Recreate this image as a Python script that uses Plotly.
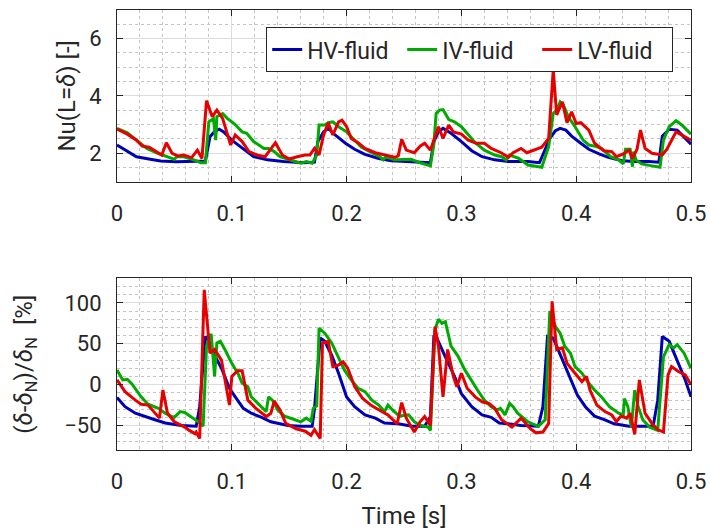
import plotly.graph_objects as go

# ---------------- data (time [s], value) ----------------
nu_hv = [(0,2.28),(0.017,1.87),(0.029,1.78),(0.038,1.72),(0.052,1.69),(0.073,1.70),(0.077,1.72),(0.081,2.57),
         (0.085,2.75),(0.089,2.83),(0.093,2.74),(0.1,2.45),(0.11,2.13),(0.119,1.87),(0.131,1.76),(0.145,1.70),
         (0.163,1.66),(0.172,1.68),(0.175,2.4),(0.18,2.74),(0.184,2.86),(0.19,2.63),(0.199,2.34),(0.207,2.13),
         (0.216,1.95),(0.228,1.81),(0.239,1.73),(0.251,1.70),(0.263,1.66),(0.273,1.66),(0.276,2.4),(0.28,2.74),
         (0.284,2.86),(0.291,2.69),(0.3,2.4),(0.309,2.08),(0.318,1.87),(0.329,1.76),(0.341,1.70),(0.358,1.70),
         (0.368,1.66),(0.373,2.1),(0.377,2.51),(0.382,2.78),(0.386,2.86),(0.391,2.8),(0.396,2.59),(0.404,2.34),
         (0.411,2.13),(0.42,1.97),(0.428,1.85),(0.44,1.73),(0.451,1.70),(0.463,1.70),(0.472,1.68),(0.475,2.59),
         (0.481,2.83),(0.488,2.8),(0.494,2.57),(0.5,2.31)]
nu_iv = [(0,2.86),(0.009,2.71),(0.017,2.45),(0.026,2.16),(0.035,2.0),(0.044,1.87),(0.05,1.78),(0.052,1.87),
         (0.058,1.87),(0.067,1.76),(0.073,1.66),(0.077,1.66),(0.08,3.09),(0.084,3.2),(0.086,2.45),(0.087,3.27),
         (0.092,3.38),(0.096,3.21),(0.102,3.03),(0.109,2.74),(0.113,2.69),(0.119,2.4),(0.128,2.16),(0.132,2.16),
         (0.137,2.05),(0.142,1.87),(0.151,1.76),(0.16,1.64),(0.165,1.7),(0.17,1.64),(0.174,1.93),(0.176,2.98),
         (0.181,2.98),(0.184,3.06),(0.188,3.09),(0.193,2.92),(0.2,2.74),(0.206,2.48),(0.213,2.2),(0.222,2.01),
         (0.229,1.87),(0.232,1.76),(0.234,1.87),(0.242,1.76),(0.251,1.76),(0.256,1.78),(0.264,1.66),(0.273,1.55),
         (0.276,2.3),(0.278,3.38),(0.281,3.5),(0.284,3.52),(0.289,3.17),(0.294,3.09),(0.3,2.92),(0.306,2.63),
         (0.312,2.36),(0.32,2.1),(0.329,1.93),(0.335,1.87),(0.339,1.76),(0.342,1.93),(0.35,1.81),(0.358,1.58),
         (0.37,1.5),(0.376,2.22),(0.38,3.38),(0.383,3.5),(0.386,3.79),(0.389,3.67),(0.393,3.27),(0.399,2.92),
         (0.406,2.45),(0.411,2.28),(0.416,2.24),(0.422,2.16),(0.43,1.87),(0.437,1.76),(0.441,1.62),(0.443,2.13),
         (0.447,2.13),(0.449,1.52),(0.45,2.05),(0.452,1.76),(0.457,1.62),(0.466,1.55),(0.473,1.5),(0.476,2.45),
         (0.481,2.92),(0.487,3.13),(0.492,2.98),(0.5,2.66)]
nu_lv = [(0,2.84),(0.009,2.66),(0.017,2.45),(0.022,2.24),(0.028,2.2),(0.035,2.01),(0.039,1.93),(0.043,2.36),
         (0.048,1.99),(0.053,1.9),(0.058,1.93),(0.065,1.84),(0.07,2.1),(0.074,1.81),(0.078,3.83),(0.083,3.27),
         (0.087,3.5),(0.092,3.21),(0.099,2.28),(0.103,2.63),(0.109,2.4),(0.115,2.05),(0.122,1.93),(0.129,1.87),
         (0.138,2.36),(0.144,1.93),(0.15,1.79),(0.157,1.87),(0.164,1.93),(0.168,1.93),(0.172,2.16),(0.176,1.93),
         (0.18,2.63),(0.184,3.06),(0.188,2.63),(0.193,3.09),(0.196,3.15),(0.2,2.92),(0.204,2.51),(0.21,2.36),
         (0.216,2.16),(0.225,2.01),(0.234,1.93),(0.242,1.85),(0.245,1.9),(0.248,2.48),(0.252,2.1),(0.259,2.01),
         (0.264,2.24),(0.268,2.34),(0.273,2.1),(0.277,2.57),(0.28,2.92),(0.284,2.51),(0.289,2.98),(0.293,2.74),
         (0.3,2.66),(0.306,2.45),(0.313,2.34),(0.32,2.34),(0.326,2.16),(0.335,2.0),(0.341,1.85),(0.345,2.01),
         (0.352,2.16),(0.357,2.01),(0.363,2.1),(0.37,2.2),(0.376,2.51),(0.38,4.9),(0.383,3.33),(0.388,3.79),
         (0.392,3.06),(0.396,3.44),(0.4,3.03),(0.404,3.06),(0.411,2.8),(0.416,2.34),(0.424,2.08),(0.431,2.05),
         (0.435,1.87),(0.441,1.97),(0.446,2.1),(0.449,1.81),(0.453,2.13),(0.456,2.8),(0.46,2.16),(0.466,1.99),
         (0.475,1.93),(0.479,2.13),(0.487,2.74),(0.492,2.63),(0.5,2.45)]

dev_hv = [(0,-15.6),(0.007,-27),(0.016,-35),(0.024,-39),(0.033,-43),(0.042,-47),(0.056,-50),(0.069,-51),
          (0.072,-27),(0.075,26),(0.077,59),(0.081,51),(0.085,36),(0.091,20),(0.098,-4.5),(0.103,-15),(0.11,-29),
          (0.117,-35),(0.126,-40),(0.134,-45.5),(0.149,-50),(0.16,-51),(0.17,-51),(0.172,-30),(0.1745,10),
          (0.177,57),(0.181,53),(0.187,36),(0.193,14),(0.2,-15),(0.207,-27),(0.216,-37),(0.225,-41),(0.233,-47),
          (0.245,-48),(0.257,-51),(0.268,-51),(0.273,-39),(0.276,59),(0.278,59),(0.286,34),(0.294,10),(0.3,-11),
          (0.309,-27),(0.318,-37),(0.326,-40),(0.333,-47),(0.338,-47.5),(0.352,-50),(0.367,-51),(0.371,-27),
          (0.375,59),(0.38,57),(0.388,30),(0.395,5.7),(0.401,-12.7),(0.408,-27),(0.416,-38.5),(0.425,-43),
          (0.433,-48),(0.446,-51),(0.467,-51),(0.471,-19),(0.475,59),(0.481,53),(0.488,30),(0.495,5.7),(0.5,-15)]
dev_iv = [(0,18),(0.005,5.7),(0.009,6.6),(0.013,0.8),(0.021,-15),(0.027,-24),(0.036,-29),(0.042,-35),(0.047,-38.5),
          (0.05,-40),(0.055,-33),(0.059,-34),(0.065,-40),(0.071,-45.5),(0.075,-51),(0.078,47),(0.08,57),(0.082,62),
          (0.085,10),(0.087,51),(0.09,53),(0.094,43),(0.1,26),(0.106,12),(0.109,1.6),(0.114,-2.5),(0.117,-15),
          (0.126,-27),(0.13,-33),(0.132,-15),(0.136,-20),(0.14,-31),(0.146,-38.5),(0.155,-43),(0.16,-45.5),
          (0.165,-41),(0.169,-45),(0.171,-29),(0.174,-26),(0.176,69),(0.181,63),(0.187,51),(0.193,34),(0.198,18),
          (0.204,5.7),(0.21,-4.5),(0.216,-8.6),(0.222,-19),(0.228,-25),(0.233,-33),(0.236,-25),(0.24,-31),
          (0.246,-38.5),(0.254,-37),(0.259,-45.5),(0.265,-50),(0.271,-52),(0.273,-56),(0.277,67),(0.28,80),
          (0.283,75),(0.286,77),(0.291,47),(0.297,35),(0.303,18),(0.309,3.7),(0.314,-6.6),(0.32,-19),(0.326,-27),
          (0.331,-31),(0.334,-29),(0.338,-37),(0.342,-23),(0.345,-27),(0.349,-35),(0.358,-45.5),(0.367,-51),
          (0.373,-43),(0.377,90),(0.382,71),(0.386,63),(0.39,47),(0.395,38.5),(0.399,22),(0.405,14),(0.411,1.6),
          (0.416,-6.6),(0.422,-15),(0.429,-27),(0.437,-35),(0.441,-37),(0.442,-17),(0.445,-27),(0.448,-52),
          (0.451,-6.6),(0.454,-27),(0.458,-43),(0.464,-52),(0.471,-56),(0.476,34),(0.481,49),(0.485,45),
          (0.488,49),(0.494,38.5),(0.5,20)]
dev_lv = [(0,5.7),(0.007,-8.6),(0.016,-19),(0.021,-24),(0.027,-25),(0.033,-35),(0.037,-41),(0.04,-6.6),
          (0.044,-35),(0.05,-45.5),(0.059,-52),(0.063,-56),(0.068,-60),(0.069,-58),(0.072,-66),(0.076,116),
          (0.081,38.5),(0.085,43),(0.091,30),(0.098,-25),(0.1,10),(0.105,17),(0.109,17),(0.114,-19),(0.121,-29),
          (0.13,-39),(0.134,-35),(0.137,-20),(0.142,-31),(0.147,-47.5),(0.156,-54),(0.164,-57),(0.169,-62),
          (0.172,-55),(0.177,-66),(0.179,51),(0.184,53),(0.188,22),(0.193,24),(0.197,28),(0.201,20),(0.207,-2.5),
          (0.214,-17),(0.222,-26),(0.229,-31),(0.236,-37),(0.244,-48),(0.248,-22),(0.252,-41),(0.259,-58),
          (0.264,-45.5),(0.268,-39),(0.273,-50),(0.277,71),(0.28,47),(0.284,-15),(0.288,43),(0.293,10),
          (0.296,-2.5),(0.3,14),(0.305,-4.5),(0.312,-15),(0.318,-21),(0.324,-23),(0.329,-29),(0.335,-43),
          (0.344,-52),(0.352,-41),(0.36,-54),(0.365,-59),(0.371,-58),(0.376,-47.5),(0.379,102),(0.383,43),
          (0.388,45),(0.392,26),(0.399,14),(0.405,3.7),(0.409,10),(0.412,-6.6),(0.418,-25),(0.425,-33),
          (0.431,-37),(0.435,-45.5),(0.439,-38.5),(0.444,-41),(0.447,-35),(0.451,-61),(0.455,5.7),(0.46,-35),
          (0.466,-47.5),(0.471,-55),(0.476,-58),(0.48,12),(0.483,22),(0.489,16),(0.495,12),(0.5,0)]

series_names = ["HV-fluid", "IV-fluid", "LV-fluid"]
series_colors = ["#0000B4", "#00AA00", "#E60000"]
x_ticks = [0, 0.1, 0.2, 0.3, 0.4, 0.5]
nu_ticks = [2, 4, 6]
dev_ticks = [-50, 0, 50, 100]

FONT = "Roboto, Liberation Sans, Arial, sans-serif"
TXT = "#262626"

fig = go.Figure()
for name, col, top, bot in zip(series_names, series_colors, [nu_hv, nu_iv, nu_lv], [dev_hv, dev_iv, dev_lv]):
    tt, vv = zip(*top)
    fig.add_trace(go.Scatter(x=tt, y=vv, mode="lines", name=name, line=dict(color=col, width=3),
                             xaxis="x", yaxis="y"))
    tb, vb = zip(*bot)
    fig.add_trace(go.Scatter(x=tb, y=vb, mode="lines", name=name, showlegend=False,
                             line=dict(color=col, width=3), xaxis="x2", yaxis="y2"))

def xax(anchor, title=None):
    d = dict(range=[0, 0.5], tickvals=x_ticks, ticktext=[f"{v:g}" for v in x_ticks],
             showline=True, linecolor=TXT, linewidth=1, mirror="ticks", ticks="inside", ticklen=6,
             tickcolor=TXT, showgrid=True, gridcolor="#DCDCDC", gridwidth=1, zeroline=False,
             minor=dict(dtick=0.02, showgrid=True, gridcolor="#C4C4C4", griddash="dot", gridwidth=1),
             tickfont=dict(size=22, color=TXT, family=FONT), ticklabelstandoff=12, anchor=anchor,
             automargin=False)
    if title:
        d["title"] = dict(text=title, font=dict(size=24, color=TXT, family=FONT), standoff=14)
    return d

def yax(rng, ticks, mdt, dom, title, anchor, tsize, standoff):
    return dict(range=rng, tickvals=ticks, showline=True, linecolor=TXT, linewidth=1, mirror="ticks",
                ticks="inside", ticklen=6, tickcolor=TXT, showgrid=True, gridcolor="#DCDCDC", gridwidth=1,
                zeroline=False, domain=dom, automargin=False,
                minor=dict(dtick=mdt, showgrid=True, gridcolor="#C4C4C4", griddash="dot", gridwidth=1),
                tickfont=dict(size=22, color=TXT, family=FONT), ticklabelstandoff=10, anchor=anchor,
                title=dict(text=title, font=dict(size=tsize, color=TXT, family=FONT), standoff=standoff))

fig.update_layout(
    width=710, height=530, autosize=False,
    margin=dict(l=117, r=19, t=10, b=80),
    paper_bgcolor="white", plot_bgcolor="white",
    font=dict(family=FONT, color=TXT),
    xaxis=xax("y"),
    yaxis=yax([1, 7], nu_ticks, 0.5, [0.61, 1.0], "Nu(L=<i>δ</i>) [-]", "x", 24, 6),
    xaxis2=xax("y2", "Time [s]"),
    yaxis2=yax([-80, 130], dev_ticks, 10, [0.0, 0.39],
               "(<i>δ</i>-<i>δ</i><sub>N</sub>)/<i>δ</i><sub>N</sub>  [%]", "x2", 24, 24),
    legend=dict(orientation="h", x=0.969, xanchor="right", y=0.961, yanchor="top",
                bgcolor="white", bordercolor=TXT, borderwidth=1,
                font=dict(size=23, color=TXT, family=FONT), itemwidth=30,
                tracegroupgap=0, entrywidth=90, entrywidthmode="pixels"),
    showlegend=True,
)

fig.write_html("out.html")
